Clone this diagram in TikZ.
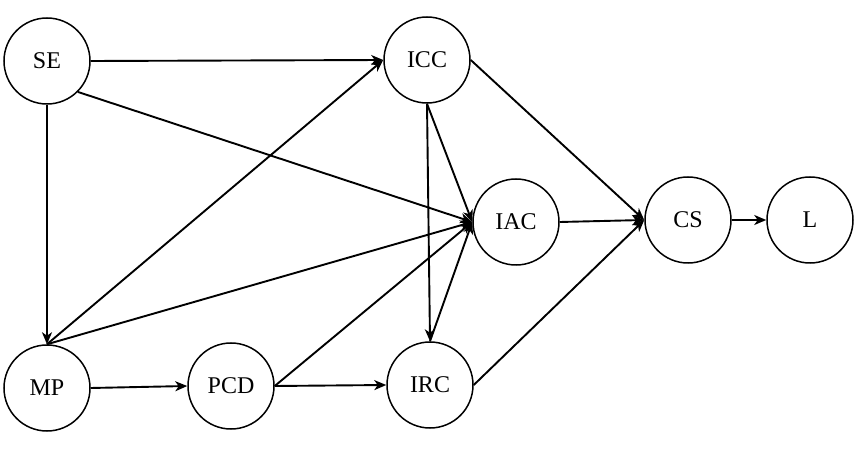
\documentclass[tikz,border=0pt]{standalone}
\usepackage{fontspec}
\setmainfont{Liberation Serif}
\usetikzlibrary{arrows.meta}
\begin{document}
\begin{tikzpicture}[x=1pt,y=-1pt,
  var/.style={circle,draw,line width=1.5pt,minimum size=86pt,inner sep=0pt,font=\fontsize{24}{28}\selectfont},
  edge/.style={line width=1.9pt,-{Stealth[length=12pt,width=10pt,inset=3.5pt]}}]
\useasboundingbox (0,0) rectangle (854,454);
\node[var] (SE)  at (47,61)   {SE};
\node[var] (ICC) at (427,60)  {ICC};
\node[var] (IAC) at (516,222) {IAC};
\node[var] (CS)  at (688,220) {CS};
\node[var] (L)   at (810,220) {L};
\node[var] (MP)  at (47,388)  {MP};
\node[var] (PCD) at (231,386) {PCD};
\node[var] (IRC) at (430,385) {IRC};

\draw[edge] (SE.east) -- (ICC.west);
\draw[edge] (SE.south east) -- (IAC.west);
\draw[edge] (SE.south) -- (MP.north);
\draw[edge] (MP.north) -- (ICC.west);
\draw[edge] (MP.north) -- (IAC.west);
\draw[edge] (MP.east) -- (PCD.west);
\draw[edge] (PCD.east) -- (IRC.west);
\draw[edge] (PCD.east) -- (IAC.west);
\draw[edge] (ICC.south) -- (IAC.west);
\draw[edge] (ICC.south) -- (IRC.north);
\draw[edge] (ICC.east) -- (CS.west);
\draw[edge] (IRC.north) -- (IAC.west);
\draw[edge] (IRC.east) -- (CS.west);
\draw[edge] (IAC.east) -- (CS.west);
\draw[edge] (CS.east) -- (L.west);
\end{tikzpicture}
\end{document}
